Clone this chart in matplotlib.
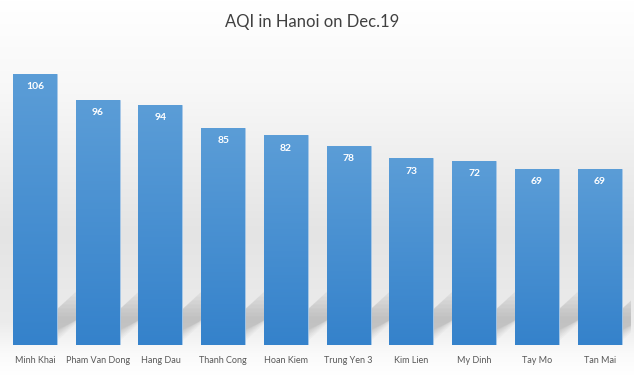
import matplotlib
matplotlib.use("Agg")
import matplotlib.pyplot as plt
import numpy as np
from matplotlib.colors import LinearSegmentedColormap
from matplotlib.patches import Polygon

stations = ["Minh Khai", "Pham Van Dong", "Hang Dau", "Thanh Cong", "Hoan Kiem",
            "Trung Yen 3", "Kim Lien", "My Dinh", "Tay Mo", "Tan Mai"]
aqi = [106, 96, 94, 85, 82, 78, 73, 72, 69, 69]

plt.rcParams["font.family"] = ["Lato", "DejaVu Sans"]

fig = plt.figure(figsize=(6.34, 3.76), dpi=100)

# soft grey backdrop: white top, grey middle, white at the bottom
bg = fig.add_axes([0, 0, 1, 1], zorder=-10)
bg_cmap = LinearSegmentedColormap.from_list(
    "bg", [(0.0, "#ffffff"), (0.25, "#f7f7f7"), (0.62, "#e4e4e4"),
           (0.86, "#ececec"), (0.94, "#fafafa"), (1.0, "#ffffff")])
grad = np.linspace(0, 1, 256).reshape(-1, 1)
bg.imshow(grad, aspect="auto", cmap=bg_cmap, extent=[0, 1, 1, 0])
bg.set_axis_off()

ax = fig.add_axes([3.6 / 634, 31 / 376, 627.4 / 634, 0.8156])
ax.set_xlim(-0.5, len(stations) - 0.5)
ax.set_ylim(0, 120)
ax.patch.set_alpha(0)

x = np.arange(len(stations))
width = 0.7

# blurred diagonal shadows behind the bars (stacked faint layers)
for xi in x:
    xl, xr = xi - width / 2, xi + width / 2
    for k in range(8):
        s = 1 - 0.07 * k
        y0 = 1.5 + 0.4 * k
        poly = Polygon([(xl + 0.15, y0), (xr - 0.02 * k, y0),
                        (xr + 0.9 * s, 22 * s), (xl + 0.15 + 0.9 * s, 22 * s)],
                       closed=True, facecolor="#6a6a6a", edgecolor="none", alpha=0.045, zorder=1)
        ax.add_patch(poly)

bars = ax.bar(x, aqi, width=width, color="#4a92d3", edgecolor="#a9c9e8", linewidth=0.6, zorder=2)

bar_cmap = LinearSegmentedColormap.from_list("bar", ["#3582cb", "#5b9dd7"])
for b in bars:
    bx, by = b.get_x(), b.get_y()
    bw, bh = b.get_width(), b.get_height()
    im = ax.imshow(np.linspace(0, 1, 100).reshape(-1, 1), aspect="auto", cmap=bar_cmap,
                   extent=[bx, bx + bw, by, by + bh], origin="lower", zorder=3)
    im.set_clip_path(b)

for xi, v in zip(x, aqi):
    ax.text(xi, v - 5, str(v), ha="center", va="center", color="white",
            fontsize=7.5, fontweight="bold", zorder=4)

ax.set_aspect("auto")
ax.set_xlim(-0.5, len(stations) - 0.5)
ax.set_ylim(0, 120)
ax.set_xticks(x)
ax.set_xticklabels(stations, fontsize=6.5, color="#595959")
ax.tick_params(axis="x", length=0, pad=8)
ax.set_yticks([])
for sp in ax.spines.values():
    sp.set_visible(False)

fig.text(0.492, 0.942, "AQI in Hanoi on Dec.19", ha="center", va="center",
         fontsize=12, color="#404040")

fig.savefig("out.png", dpi=100)
